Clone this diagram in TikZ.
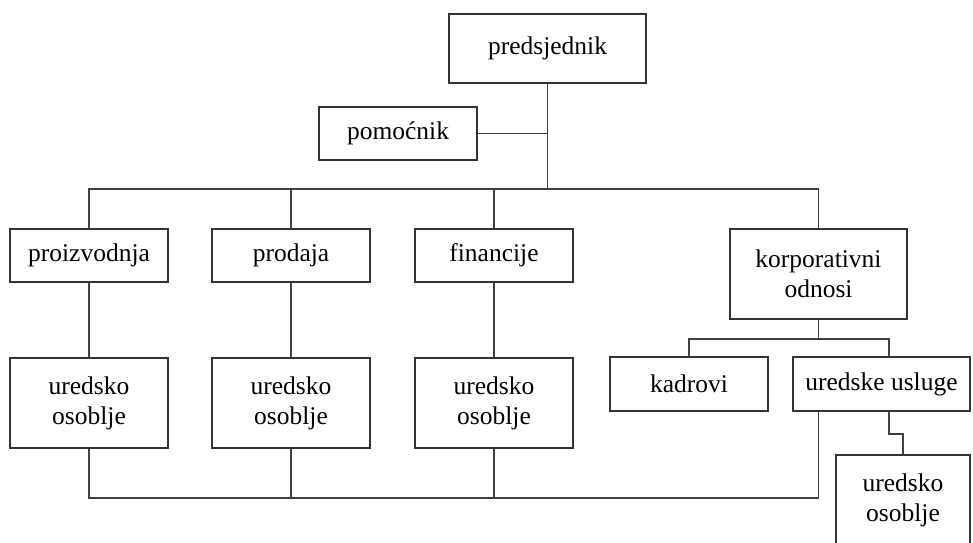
\documentclass[tikz,border=0pt]{standalone}
\usepackage{fontspec}
\setmainfont{Liberation Serif}
\usepackage{tikz}

\tikzset{
  box/.style={draw=black!80, line width=1.6pt, fill=white, inner sep=0pt, align=center,
    minimum width=158pt, minimum height=53pt, font=\fontsize{25.5}{30}\selectfont},
  wire/.style={draw=black!75, line width=1.6pt}
}

\begin{document}
\begin{tikzpicture}[x=1pt,y=1pt,yscale=-1,xscale=1]
\useasboundingbox (0,0) rectangle (973,542);

% Boxes
\node [box, minimum width=197pt, minimum height=69pt] (pred) at (547.5,48.5) {predsjednik};
\node [box] (pom) at (398,133.5) {pomoćnik};
\node [box] (proiz) at (89,255.5) {proizvodnja};
\node [box] (prod) at (291,255.5) {prodaja};
\node [box] (fin) at (494,255.5) {financije};
\node [box, minimum width=177pt, minimum height=90pt] (korp) at (818.5,274) {korporativni\\odnosi};
\node [box, minimum height=54pt] (kad) at (689,384) {kadrovi};
\node [box, minimum width=177pt, minimum height=54pt] (usl) at (881.5,384) {uredske usluge};
\node [box, minimum height=90pt] (uo1) at (89,403) {uredsko\\osoblje};
\node [box, minimum height=90pt] (uo2) at (291,403) {uredsko\\osoblje};
\node [box, minimum height=90pt] (uo3) at (494,403) {uredsko\\osoblje};
\node [box, minimum width=134pt, minimum height=90pt] (uo4) at (903,500) {uredsko\\osoblje};

% Bus points
\coordinate (bus) at (547.5,189);
\coordinate (low) at (0,498);
\coordinate (ktop) at ([xshift=7.5pt]usl.north);
\coordinate (kbot) at ([xshift=7.5pt]usl.south);

% Top level
\draw [wire] (pred.south) -- (bus);
\draw [wire] (pom.east) -- (pred.south |- pom.east);
\draw [wire] (proiz.north) -- (proiz.north |- bus) -- (korp.north |- bus) -- (korp.north);
\draw [wire] (prod.north) -- (prod.north |- bus);
\draw [wire] (fin.north) -- (fin.north |- bus);

% Departments to staff
\draw [wire] (proiz.south) -- (uo1.north);
\draw [wire] (prod.south) -- (uo2.north);
\draw [wire] (fin.south) -- (uo3.north);

% Corporate relations
\draw [wire] (korp.south) -- ++(0,19) coordinate (kbus);
\draw [wire] (kad.north) |- (kbus) -| (ktop);
\draw [wire] (kbot) -- ++(0,22) -| (uo4.north);

% Bottom line
\draw [wire] (uo1.south) |- (korp.south |- low) -- (korp.south |- usl.south);
\draw [wire] (uo2.south) -- (uo2.south |- low);
\draw [wire] (uo3.south) -- (uo3.south |- low);

\end{tikzpicture}
\end{document}
